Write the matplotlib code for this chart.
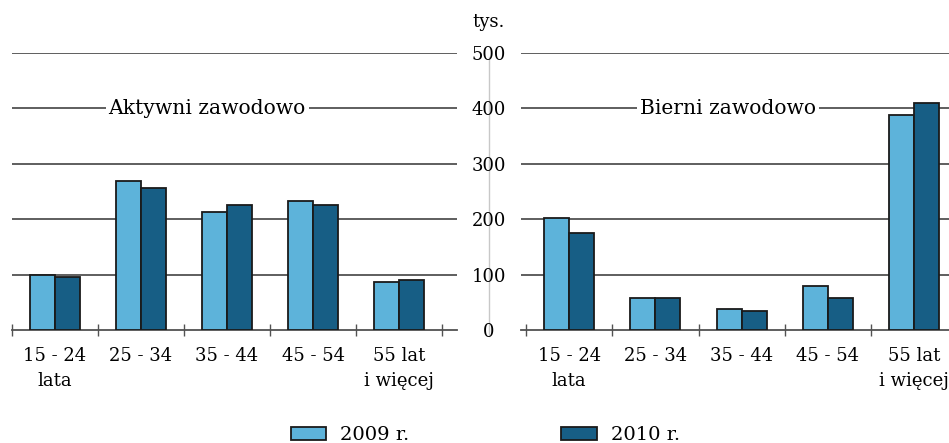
import matplotlib
matplotlib.use("Agg")
import matplotlib.pyplot as plt
import matplotlib.transforms as mtransforms
from matplotlib.patches import Patch
from matplotlib.lines import Line2D
import numpy as np

categories = ["15 - 24\nlata", "25 - 34", "35 - 44", "45 - 54", "55 lat\ni więcej"]
active_2009 = [100, 269, 213, 233, 87]
active_2010 = [96, 256, 226, 226, 90]
inactive_2009 = [202, 58, 38, 79, 388]
inactive_2010 = [175, 58, 34, 58, 410]
yticks = [0, 100, 200, 300, 400, 500]
series_labels = ["2009 r.", "2010 r."]
titles = ["Aktywni zawodowo", "Bierni zawodowo"]

C1 = "#5db3da"
C2 = "#175e85"
GRID = "#525252"
EDGE = "#1a1a1a"
FONT = "DejaVu Serif"
plt.rcParams["font.family"] = [FONT, "DejaVu Sans"]

W, H = 949, 443
fig = plt.figure(figsize=(W / 100, H / 100), dpi=100)

def px_rect(x0, x1, ytop, ybot):
    return [x0 / W, (H - ybot) / H, (x1 - x0) / W, (ybot - ytop) / H]

ax1 = fig.add_axes(px_rect(12, 457, 53, 330))
ax2 = fig.add_axes(px_rect(521, 949, 53, 330))

bw = 0.29
x = np.arange(len(categories))
for ax, d1, d2, title, xlim, tx in [
    (ax1, active_2009, active_2010, titles[0], (-0.5, 4.674), 1.77),
    (ax2, inactive_2009, inactive_2010, titles[1], (-0.558, 4.404), 1.84),
]:
    ax.bar(x - bw / 2, d1, bw, color=C1, edgecolor=EDGE, linewidth=1.3, zorder=3)
    ax.bar(x + bw / 2, d2, bw, color=C2, edgecolor=EDGE, linewidth=1.3, zorder=3)
    for s in ["top", "right", "left"]:
        ax.spines[s].set_visible(False)
    ax.spines["bottom"].set_color(GRID)
    ax.spines["bottom"].set_linewidth(1.3)
    ax.set_yticks(yticks[1:])
    ax.yaxis.grid(True, color=GRID, linewidth=1.3, zorder=0)
    ax.tick_params(axis="y", length=0, labelleft=False)
    ax.set_xticks(np.arange(-0.5, 5.0, 1.0))
    ax.set_xticklabels([])
    ax.tick_params(axis="x", which="major", direction="inout", length=8, width=1.0, color=GRID)
    ax.set_xticks(x, minor=True)
    ax.set_xticklabels(categories, minor=True, fontsize=13, linespacing=1.55, va="top")
    ax.tick_params(axis="x", which="minor", length=0, pad=12)
    ax.set_axisbelow(True)
    ax.set_xlim(*xlim)
    ax.set_ylim(0, 500)
    ax.text(tx, 400, title, ha="center", va="center", fontsize=14.6,
            bbox=dict(facecolor="white", edgecolor="none", pad=2), zorder=4)

# central value labels
tr = mtransforms.blended_transform_factory(fig.transFigure, ax1.transData)
for v in yticks:
    fig.text(489 / W, v, str(v), transform=tr, ha="center", va="center_baseline", fontsize=13, zorder=5)
fig.text(489 / W, (H - 20) / H, "tys.", ha="center", va="center_baseline", fontsize=13)
fig.add_artist(Line2D([489 / W, 489 / W], [(H - 57) / H, (H - 336) / H], color="#c8c8c8",
                      linewidth=1.0, zorder=0))

handles = [Patch(facecolor=C1, edgecolor=EDGE, linewidth=1.3),
           Patch(facecolor=C2, edgecolor=EDGE, linewidth=1.3)]
fig.legend(handles, series_labels, loc="center", bbox_to_anchor=(485.5 / W, (H - 435) / H), ncol=2,
           frameon=False, fontsize=14, handlelength=1.85, handleheight=0.67, handletextpad=0.72,
           columnspacing=7.8, borderaxespad=0, borderpad=0)

fig.savefig("out.png", dpi=100)
